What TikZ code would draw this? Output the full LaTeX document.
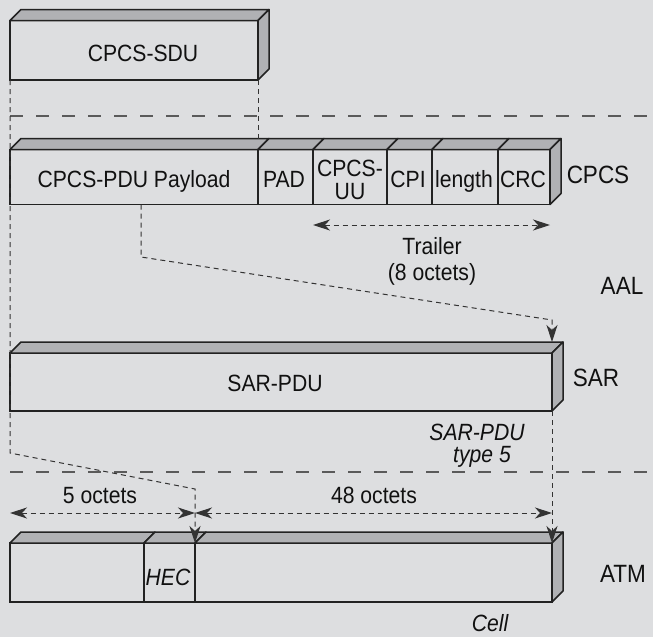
\documentclass[tikz,border=0pt]{standalone}
\usepackage{fontspec}
\setmainfont{Liberation Sans}[FakeStretch=0.9]
\usetikzlibrary{arrows.meta}
\definecolor{bgc}{HTML}{DDDEE0}
\definecolor{facec}{HTML}{B0B1B4}
\definecolor{linec}{HTML}{222222}
\definecolor{guidec}{HTML}{333333}
\definecolor{sepc}{HTML}{5A5A5A}
\definecolor{textc}{HTML}{111111}
\newcommand\boxtop[1]{\draw[face] (#1.north west) -- ([shift={(11pt,11pt)}]#1.north west) -- ([shift={(11pt,11pt)}]#1.north east) -- (#1.north east) -- cycle;}
\newcommand\boxright[1]{\draw[face] (#1.north east) -- ([shift={(11pt,11pt)}]#1.north east) -- ([shift={(11pt,11pt)}]#1.south east) -- (#1.south east) -- cycle;}
\begin{document}
\begin{tikzpicture}[x=1pt,y=-1pt,
  seg/.style={draw=linec, fill=bgc, line width=1.5pt, inner sep=0pt, outer sep=0pt, rectangle},
  face/.style={draw=linec, fill=facec, line width=1.5pt, line join=round},
  guide/.style={draw=guidec, line width=1pt, dash pattern=on 5pt off 4pt},
  sepline/.style={draw=sepc, line width=1.3pt, dash pattern=on 13pt off 13pt},
  tipend/.style={-{Stealth[length=17pt,width=11pt,inset=5pt]}},
  tipboth/.style={{Stealth[length=17pt,width=11pt,inset=5pt]}-{Stealth[length=17pt,width=11pt,inset=5pt]}},
  lbl/.style={inner sep=0pt, anchor=base, text=textc, font=\fontsize{23.5pt}{27pt}\selectfont},
  ilbl/.style={lbl, font=\fontsize{23.5pt}{27pt}\selectfont\itshape},
  side/.style={lbl, font=\fontsize{25pt}{28pt}\selectfont}]
\useasboundingbox (0,0) rectangle (653,637);
\fill[bgc] (0,0) rectangle (653,637);

% boxes
\node[seg, minimum width=248pt, minimum height=59.5pt] (sdu) at (134,50.25) {};
\boxtop{sdu}\boxright{sdu}

\node[seg, minimum width=248pt, minimum height=55pt] (payload) at (134,177) {};
\node[seg, minimum width=55pt, minimum height=55pt] (pad) at (285.5,177) {};
\node[seg, minimum width=74pt, minimum height=55pt] (uu) at (350,177) {};
\node[seg, minimum width=45pt, minimum height=55pt] (cpi) at (409.5,177) {};
\node[seg, minimum width=66pt, minimum height=55pt] (len) at (465,177) {};
\node[seg, minimum width=52pt, minimum height=55pt] (crc) at (524,177) {};
\boxtop{payload}\boxtop{pad}\boxtop{uu}\boxtop{cpi}\boxtop{len}\boxtop{crc}\boxright{crc}

\node[seg, minimum width=542pt, minimum height=58pt] (sar) at (281,382) {};
\boxtop{sar}\boxright{sar}

\node[seg, minimum width=134pt, minimum height=59pt] (hdr) at (77,572.5) {};
\node[seg, minimum width=51pt, minimum height=59pt] (hec) at (169.5,572.5) {};
\node[seg, minimum width=357pt, minimum height=59pt] (pay) at (373.5,572.5) {};
\boxtop{hdr}\boxtop{hec}\boxtop{pay}\boxright{pay}

% layer separators
\coordinate (s1a) at (10,116); \coordinate (s1b) at (653,116);
\coordinate (s2a) at (10,472); \coordinate (s2b) at (653,472);
\draw[sepline] (s1a) -- (s1b);
\draw[sepline] (s2a) -- (s2b);

% guides
\coordinate (l1) at (10,453);
\coordinate (l2) at (195,489);
\draw[guide] (sdu.south east) -- ([yshift=11pt]payload.north east);
\draw[guide, tipend] (sdu.south west) -- (l1) -- (l2) -- (pay.north west);
\coordinate (p1) at ([xshift=7pt]payload.south);
\draw[guide, tipend] (p1) -- ++(0,52.5) -- ([yshift=33pt]sar.north east) -- ([yshift=11pt]sar.north east);
\draw[guide, tipend] (sar.south east) -- (pay.north east);

% dimension arrows
\draw[guide, tipboth] ([yshift=-20.5pt]uu.south west) -- ([yshift=-20.5pt]crc.south east);
\draw[guide, tipboth] ([yshift=30pt]hdr.north west) -- ([yshift=30pt]pay.north west);
\draw[guide, tipboth] ([yshift=30pt]pay.north west) -- ([yshift=30pt]pay.north east);

% texts
\node[lbl] (t-sdu) at (143,61.5) {CPCS-SDU};
\node[lbl] (t-pay) at (134,187.5) {CPCS-PDU Payload};
\node[lbl] (t-pad) at (284,187.5) {PAD};
\node[lbl] (t-uu1) at (350,176) {CPCS-};
\node[lbl] (t-uu2) at (350,199.5) {UU};
\node[lbl] (t-cpi) at (408,187.5) {CPI};
\node[lbl] (t-len) at (464,187.5) {length};
\node[lbl] (t-crc) at (523,187.5) {CRC};
\node[side] (l-cpcs) at (598,183) {CPCS};
\node[lbl] (t-trl) at (432,254.5) {Trailer};
\node[lbl] (t-oct8) at (432,280.5) {(8 octets)};
\node[side] (l-aal) at (622,294) {AAL};
\node[lbl] (t-sar) at (275,391.5) {SAR-PDU};
\node[side] (l-sar) at (596,386) {SAR};
\node[ilbl] (t-sart) at (477,440.5) {SAR-PDU};
\node[ilbl] (t-type) at (482,462.5) {type 5};
\node[lbl] (t-5) at (100,503.5) {5 octets};
\node[lbl] (t-48) at (374,503.5) {48 octets};
\node[ilbl] (t-hec) at (168,585.5) {HEC};
\node[side] (l-atm) at (623,582) {ATM};
\node[ilbl] (t-cell) at (490,631) {Cell};
\end{tikzpicture}
\end{document}
